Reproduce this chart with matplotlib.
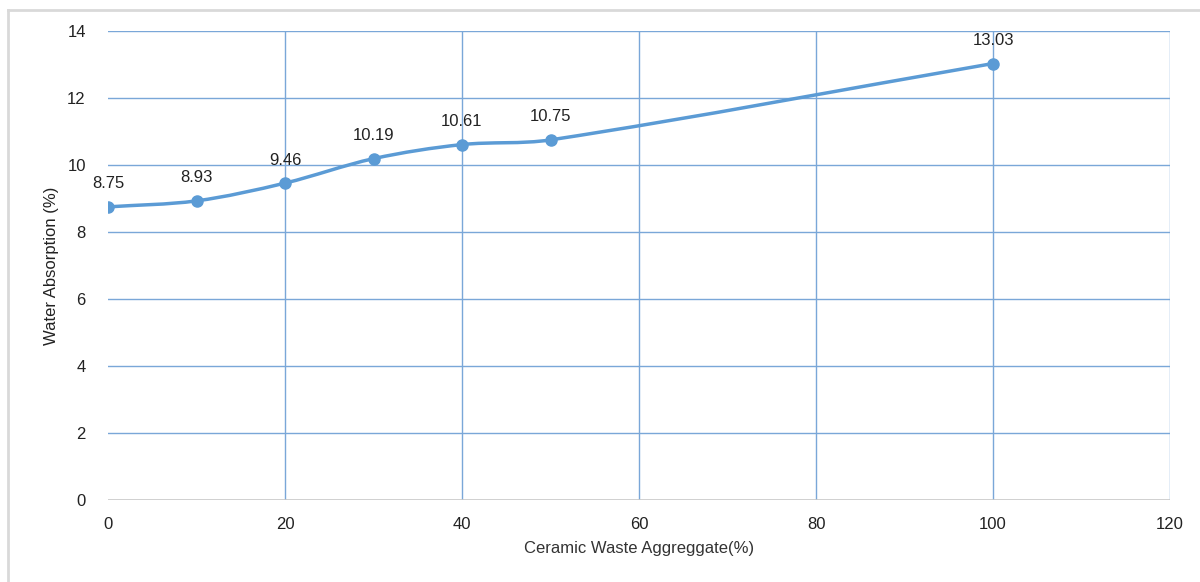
import numpy as np
import matplotlib.pyplot as plt
from matplotlib.path import Path
from matplotlib.patches import PathPatch
from matplotlib.lines import Line2D

# Water absorption vs ceramic waste aggregate replacement
replacement = [0, 10, 20, 30, 40, 50, 100]
absorption = [8.75, 8.93, 9.46, 10.19, 10.61, 10.75, 13.03]
labels = ["8.75", "8.93", "9.46", "10.19", "10.61", "10.75", "13.03"]

blue = "#5b9bd5"
grid_blue = "#7aa7d8"

plt.rcParams['font.family'] = ['Liberation Sans', 'DejaVu Sans']

fig = plt.figure(figsize=(12, 5.82), dpi=100)
ax = fig.add_axes([0.09, 0.1409, 0.885, 0.8058])
ax.set_xlim(0, 120)
ax.set_ylim(0, 14)

# smoothed line like Excel: bezier segments, tangent direction from neighbours,
# handle length a third of the segment (worked out in pixel-like units)
sx, sy = 1062 / 120, 469 / 14
pts = np.column_stack([np.array(replacement) * sx, np.array(absorption) * sy]).astype(float)
n = len(pts)

def unit_tangent(i):
    a = pts[max(i - 1, 0)]
    b = pts[min(i + 1, n - 1)]
    d = b - a
    return d / np.hypot(*d)

verts = [pts[0]]
codes = [Path.MOVETO]
for i in range(n - 1):
    p1, p2 = pts[i], pts[i + 1]
    L = np.hypot(*(p2 - p1))
    c1 = p1 + unit_tangent(i) * L / 3.0
    c2 = p2 - unit_tangent(i + 1) * L / 3.0
    verts += [c1, c2, p2]
    codes += [Path.CURVE4] * 3
verts = [(v[0] / sx, v[1] / sy) for v in verts]
ax.add_patch(PathPatch(Path(verts, codes), facecolor='none', edgecolor=blue,
                       lw=2.5, zorder=3))
ax.plot(replacement, absorption, linestyle='none', marker='o', ms=8,
        color=blue, zorder=4)

for x, y, t in zip(replacement, absorption, labels):
    ax.annotate(t, (x, y), xytext=(0, 16.5), textcoords='offset points',
                ha='center', va='center', fontsize=12, color='#222222')

ax.set_xticks(range(0, 121, 20))
ax.set_yticks(range(0, 15, 2))

for v in range(20, 121, 20):
    ax.axvline(v, color=grid_blue, lw=1, zorder=1)
for v in range(2, 15, 2):
    ax.axhline(v, color=grid_blue, lw=1, zorder=1)
ax.axhline(0, color='#c8c8c8', lw=1.2, zorder=1)

for s in ax.spines.values():
    s.set_visible(False)
ax.tick_params(length=0, labelsize=12, colors='#222222')
ax.tick_params(axis='x', pad=12)
ax.tick_params(axis='y', pad=16)

ax.set_xlabel("Ceramic Waste Aggreggate(%)", fontsize=12, color='#333333', labelpad=7)
ax.set_ylabel("Water Absorption (%)", fontsize=12, color='#222222', labelpad=6)

# light grey frame around the chart (top and left)
fig.add_artist(Line2D([8/1200, 1], [1 - 10/582, 1 - 10/582],
                      color='#d9d9d9', lw=2, transform=fig.transFigure))
fig.add_artist(Line2D([8/1200, 8/1200], [0, 1 - 10/582],
                      color='#d9d9d9', lw=2, transform=fig.transFigure))

fig.savefig("out.png", dpi=100)
